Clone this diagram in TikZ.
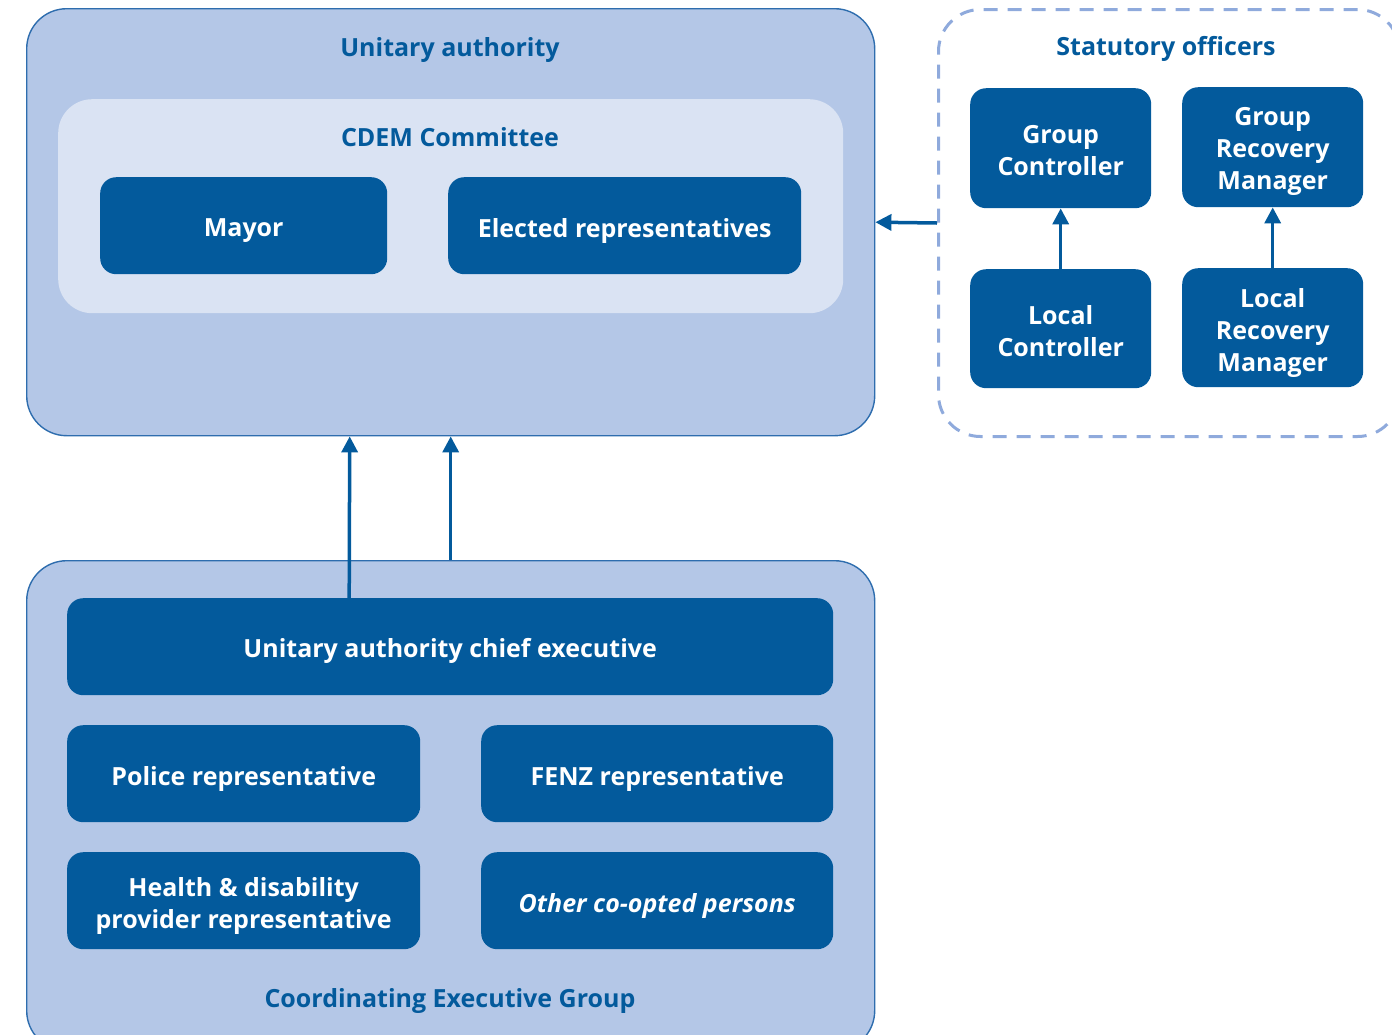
\documentclass[tikz,border=0pt]{standalone}
\usepackage{fontspec}
\setmainfont{Open Sans}
\usetikzlibrary{arrows.meta,positioning}
\definecolor{dkblue}{HTML}{035A9C}
\definecolor{ltfill}{HTML}{B4C7E7}
\definecolor{vltfill}{HTML}{DAE3F3}
\definecolor{bordblue}{HTML}{2E6DAE}
\definecolor{dashblue}{HTML}{8FAADC}
\tikzset{
  container/.style={draw=bordblue, line width=1.4pt, fill=ltfill, rounded corners=40pt, inner sep=0pt, anchor=north west},
  inner/.style={fill=vltfill, rounded corners=34pt, inner sep=0pt, anchor=north west},
  darkbox/.style={fill=dkblue, rounded corners=16pt, inner sep=0pt, anchor=north west},
  boxtext/.style={text=white, align=center, inner sep=0pt,
     font=\fontsize{25}{32}\selectfont\bfseries},
  dashbox/.style={draw=dashblue, line width=3pt, dash pattern=on 14pt off 10pt, rounded corners=42pt, inner sep=0pt, anchor=north west},
  title/.style={text=dkblue, font=\fontsize{25}{30}\selectfont\bfseries},
  arr/.style={draw=dkblue, line width=3.5pt, -{Triangle[length=16pt,width=16pt]}},
}
\begin{document}
\begin{tikzpicture}[x=1pt,y=-1pt]
\useasboundingbox (0,0) rectangle (1392,1034);
% containers
\node[container, minimum width=848pt, minimum height=427pt] (ua) at (26,8) {};
\node[inner, minimum width=785pt, minimum height=214pt] (cdem) at (58,99) {};
\node[container, minimum width=848pt, minimum height=490pt] (ceg) at (26,560) {};
\node[dashbox, minimum width=461pt, minimum height=427pt] (so) at (937,8) {};
% titles
\node[title] (tua) at (450,50) {Unitary authority};
\node[title] (tcdem) at (450,137) {CDEM Committee};
\node[title] (tso) at (1166,49) {Statutory officers};
\node[title] (tceg) at (450,1001) {Coordinating Executive Group};
% dark boxes
\node[darkbox, minimum width=287pt, minimum height=97pt] (mayor) at (100,177) {};
\node[darkbox, minimum width=353pt, minimum height=97pt] (elected) at (448,177) {};
\node[darkbox, minimum width=181pt, minimum height=120pt] (gc) at (970,88) {};
\node[darkbox, minimum width=181pt, minimum height=120pt] (grm) at (1182,87) {};
\node[darkbox, minimum width=181pt, minimum height=119pt] (lc) at (970,269) {};
\node[darkbox, minimum width=181pt, minimum height=119pt] (lrm) at (1182,268) {};
\node[darkbox, minimum width=766pt, minimum height=97pt] (ce) at (67,598) {};
\node[darkbox, minimum width=353pt, minimum height=97pt] (police) at (67,725) {};
\node[darkbox, minimum width=352pt, minimum height=97pt] (fenz) at (481,725) {};
\node[darkbox, minimum width=353pt, minimum height=97pt] (health) at (67,852) {};
\node[darkbox, minimum width=352pt, minimum height=97pt] (other) at (481,852) {};
% box texts
\node[boxtext] (mayor-t) at ([yshift=-5pt]mayor.center) {Mayor};
\node[boxtext] (elected-t) at ([yshift=-5pt]elected.center) {Elected representatives};
\node[boxtext] (gc-t) at ([yshift=-2pt]gc.center) {Group\\Controller};
\node[boxtext] (grm-t) at ([yshift=-4pt]grm.center) {Group\\Recovery\\Manager};
\node[boxtext] (lc-t) at ([yshift=-2pt]lc.center) {Local\\Controller};
\node[boxtext] (lrm-t) at ([yshift=-5pt]lrm.center) {Local\\Recovery\\Manager};
\node[boxtext] (ce-t) at ([yshift=-4pt]ce.center) {Unitary authority chief executive};
\node[boxtext] (police-t) at ([yshift=-5pt]police.center) {Police representative};
\node[boxtext] (fenz-t) at ([yshift=-5pt]fenz.center) {FENZ representative};
\node[boxtext] (health-t) at ([yshift=-5pt]health.center) {Health \& disability\\provider representative};
\node[boxtext, font=\fontsize{25}{32}\selectfont\bfseries\itshape] (other-t) at ([yshift=-5pt]other.center) {Other co-opted persons};
% connectors
\draw[arr] (lc.north) -- (gc.south);
\draw[arr] (lrm.north) -- (grm.south);
\draw[arr] (so.west) -- (ua.east);
\draw[arr] ([xshift=-101pt]ce.north) -- ([xshift=-101pt]ua.south);
\draw[arr] (ceg.north) -- (ua.south);
\end{tikzpicture}
\end{document}
